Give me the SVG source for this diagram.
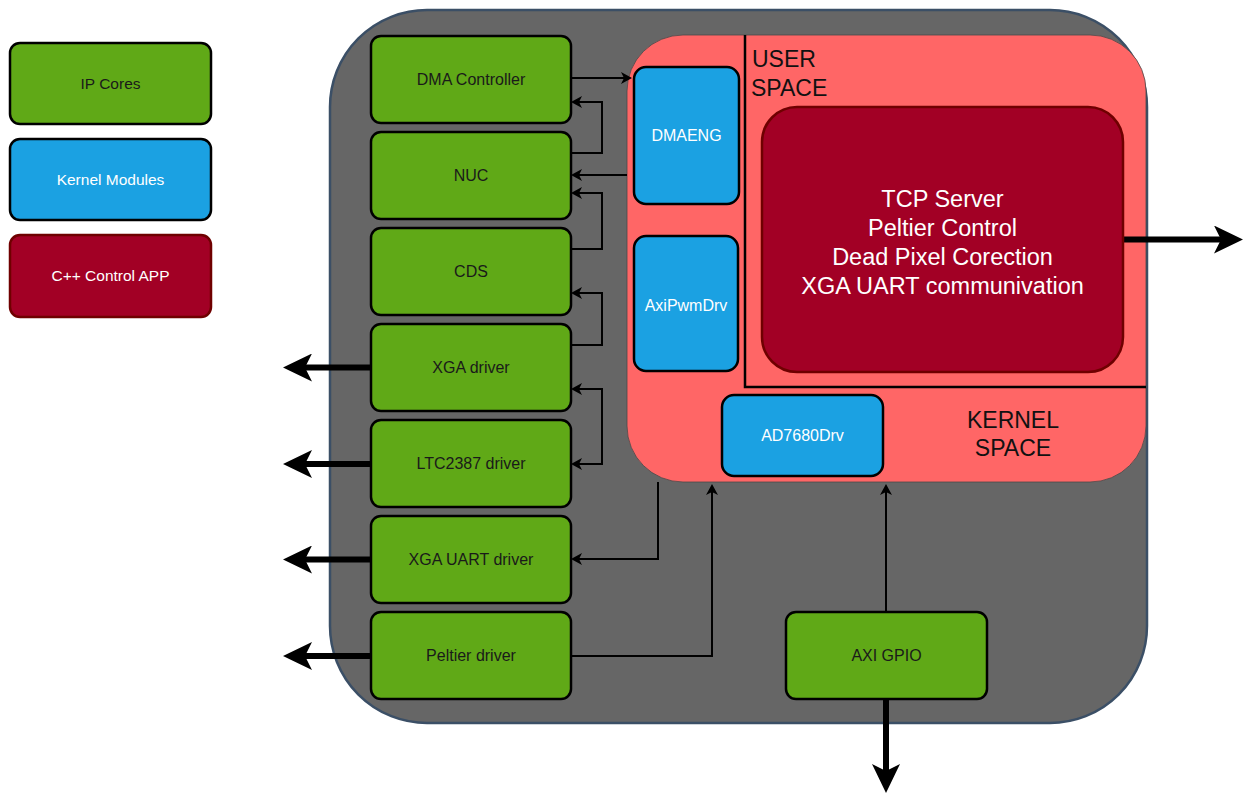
<svg xmlns="http://www.w3.org/2000/svg" width="1252" height="794" viewBox="0 0 1252 794">
  <style>
    text { font-family: "Liberation Sans", Arial, Helvetica, sans-serif; }
    .ip { fill: #60a917; stroke: #000; stroke-width: 2.5; }
    .km { fill: #1ba1e2; stroke: #000; stroke-width: 2.5; }
    .app { fill: #a20025; stroke: #6f0000; stroke-width: 2.5; }
    .lbl-dark { fill: #1a1a1a; font-size: 16px; text-anchor: middle; }
    .lbl-light { fill: #ffffff; font-size: 16px; text-anchor: middle; }
    .legend { font-size: 15.5px; }
    .big { fill: #ffffff; font-size: 23.5px; text-anchor: middle; }
    .space { fill: #111; font-size: 23px; }
    .thin { fill: none; stroke: #000; stroke-width: 2; }
    .thick { fill: none; stroke: #000; stroke-width: 6; }
  </style>
  <defs>
    <marker id="arrow" markerUnits="userSpaceOnUse" markerWidth="12" markerHeight="12" refX="3" refY="6" orient="auto-start-reverse">
      <path d="M0,0 L11,6 L0,12 L3,6 Z" fill="#000"/>
    </marker>
    <marker id="arrowBig" markerUnits="userSpaceOnUse" markerWidth="30" markerHeight="28" refX="7" refY="14" orient="auto">
      <path d="M0,0 L29,14 L0,28 L7,14 Z" fill="#000"/>
    </marker>
  </defs>

  <!-- legend -->
  <g id="legend-ip">
    <rect class="ip" x="10" y="43" width="201" height="81" rx="10"/>
    <text class="lbl-dark legend" x="110.5" y="89">IP Cores</text>
  </g>
  <g id="legend-km">
    <rect class="km" x="10" y="139" width="201" height="81" rx="10"/>
    <text class="lbl-light legend" x="110.5" y="185">Kernel Modules</text>
  </g>
  <g id="legend-app">
    <rect class="app" x="10" y="235" width="201" height="82" rx="10"/>
    <text class="lbl-light legend" x="110.5" y="281">C++ Control APP</text>
  </g>

  <!-- FPGA / SoC container -->
  <g id="soc">
    <rect x="330" y="10" width="817" height="713" rx="97" fill="#666666" stroke="#3b4f66" stroke-width="2.5"/>
  </g>

  <!-- Linux side: kernel + user space -->
  <g id="linux">
    <rect x="627" y="35" width="519" height="447" rx="56" fill="#ff6666" stroke="#4a4a4a" stroke-width="0.8"/>
    <path d="M745,35 L745,387 L1146,387" fill="none" stroke="#000" stroke-width="2.5"/>
    <text class="space" x="752" y="67">USER</text>
    <text class="space" x="751" y="96">SPACE</text>
    <text class="space" x="1013" y="428" font-size="22" text-anchor="middle">KERNEL</text>
    <text class="space" x="1013" y="456" font-size="22" text-anchor="middle">SPACE</text>
  </g>

  <!-- connectors -->
  <g id="connectors">
    <path class="thin" d="M571,78 L624,78" marker-end="url(#arrow)"/>
    <path class="thin" d="M627,175 L579,175" marker-end="url(#arrow)"/>
    <path class="thin" d="M571,153 L602,153 L602,102 L579,102" marker-end="url(#arrow)"/>
    <path class="thin" d="M571,249 L602,249 L602,193 L579,193" marker-end="url(#arrow)"/>
    <path class="thin" d="M571,345 L602,345 L602,293 L579,293" marker-end="url(#arrow)"/>
    <path class="thin" d="M579,389 L602,389 L602,464 L579,464" marker-start="url(#arrow)" marker-end="url(#arrow)"/>
    <path class="thin" d="M658,482 L658,559 L579,559" marker-end="url(#arrow)"/>
    <path class="thin" d="M571,656 L712,656 L712,492" marker-end="url(#arrow)"/>
    <path class="thin" d="M886,612 L886,492" marker-end="url(#arrow)"/>

    <path class="thick" d="M371,367.5 L305,367.5" marker-end="url(#arrowBig)"/>
    <path class="thick" d="M371,464 L305,464" marker-end="url(#arrowBig)"/>
    <path class="thick" d="M371,559.5 L305,559.5" marker-end="url(#arrowBig)"/>
    <path class="thick" d="M371,656 L305,656" marker-end="url(#arrowBig)"/>
    <path class="thick" d="M1123,239.5 L1221,239.5" marker-end="url(#arrowBig)"/>
    <path class="thick" d="M886,699 L886,771" marker-end="url(#arrowBig)"/>
  </g>

  <!-- IP cores -->
  <g id="dma-controller">
    <rect class="ip" x="371" y="36" width="200" height="87" rx="10"/>
    <text class="lbl-dark" x="471" y="85">DMA Controller</text>
  </g>
  <g id="nuc">
    <rect class="ip" x="371" y="132" width="200" height="87" rx="10"/>
    <text class="lbl-dark" x="471" y="181">NUC</text>
  </g>
  <g id="cds">
    <rect class="ip" x="371" y="228" width="200" height="87" rx="10"/>
    <text class="lbl-dark" x="471" y="277">CDS</text>
  </g>
  <g id="xga-driver">
    <rect class="ip" x="371" y="324" width="200" height="87" rx="10"/>
    <text class="lbl-dark" x="471" y="373">XGA driver</text>
  </g>
  <g id="ltc2387-driver">
    <rect class="ip" x="371" y="420" width="200" height="87" rx="10"/>
    <text class="lbl-dark" x="471" y="469">LTC2387 driver</text>
  </g>
  <g id="xga-uart-driver">
    <rect class="ip" x="371" y="516" width="200" height="87" rx="10"/>
    <text class="lbl-dark" x="471" y="565">XGA UART driver</text>
  </g>
  <g id="peltier-driver">
    <rect class="ip" x="371" y="612" width="200" height="87" rx="10"/>
    <text class="lbl-dark" x="471" y="661">Peltier driver</text>
  </g>
  <g id="axi-gpio">
    <rect class="ip" x="786" y="612" width="201" height="87" rx="10"/>
    <text class="lbl-dark" x="886.5" y="661">AXI GPIO</text>
  </g>

  <!-- kernel modules -->
  <g id="dmaeng">
    <rect class="km" x="634" y="67" width="105" height="137" rx="12"/>
    <text class="lbl-light" x="686.5" y="141">DMAENG</text>
  </g>
  <g id="axipwmdrv">
    <rect class="km" x="634" y="236" width="104" height="135" rx="12"/>
    <text class="lbl-light" x="686" y="310.5">AxiPwmDrv</text>
  </g>
  <g id="ad7680drv">
    <rect class="km" x="722" y="395" width="161" height="81" rx="12"/>
    <text class="lbl-light" x="802.5" y="441">AD7680Drv</text>
  </g>

  <!-- control application -->
  <g id="control-app">
    <rect class="app" x="762" y="107" width="361" height="265" rx="35"/>
    <text class="big" x="942.5" y="207">TCP Server</text>
    <text class="big" x="942.5" y="236">Peltier Control</text>
    <text class="big" x="942.5" y="265">Dead Pixel Corection</text>
    <text class="big" x="942.5" y="294">XGA UART communivation</text>
  </g>
</svg>
